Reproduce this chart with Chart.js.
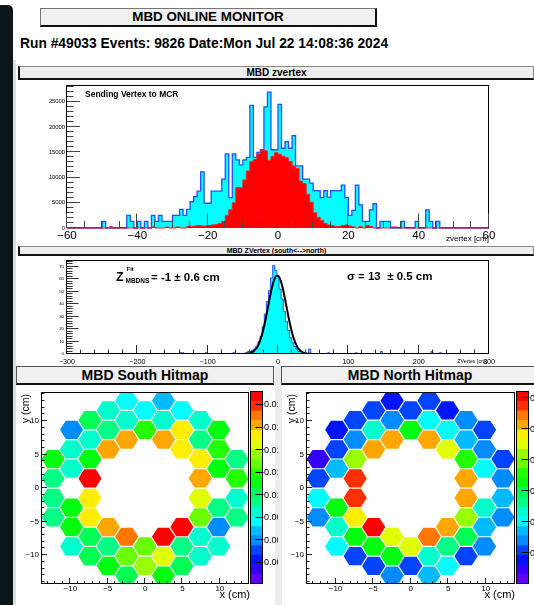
<!DOCTYPE html>
<html>
<head>
<meta charset="utf-8">
<title>MBD ONLINE MONITOR</title>
<script src="https://cdn.jsdelivr.net/npm/chart.js@4.4.1/dist/chart.umd.min.js"></script>
<style>
  html, body { margin:0; padding:0; background:#fff; }
  body { position:relative; width:534px; height:605px; overflow:hidden;
         font-family:"Liberation Sans", Arial, Helvetica, sans-serif; color:#000; }
  .a { position:absolute; }
  canvas.a { display:block; z-index:1; }
  .txt { white-space:nowrap; line-height:1; z-index:3; }
  .b { font-weight:bold; }
  .strip { left:0; top:5px; width:13px; height:600px; background:#0b161b; border-top-right-radius:5px; }
  .strip2 { left:13px; top:60px; width:3px; height:545px; background:#dedede; }
  .gap { left:275px; top:366px; width:7px; height:239px; background:#ececec; }
  .hdr { left:40px; top:8px; width:334px; height:16px; background:#f1f1f1;
         border:1px solid #777; border-right:2px solid #111; border-bottom:2px solid #111;
         text-align:center; font-weight:bold; font-size:13.4px; line-height:16px; z-index:3; }
  .run { left:20px; top:37px; font-size:13.8px; font-weight:bold; line-height:13.8px; white-space:nowrap; }
  .bar1 { left:18px; top:66px; width:513px; height:11px; background:#eeeeee;
          border-top:1px solid #888; border-left:2px solid #111; border-bottom:2px solid #111; border-right:1px solid #888;
          font-size:10px; font-weight:bold; line-height:11px; text-align:center; z-index:3; }
  .bar2 { left:18px; top:246px; width:513px; height:7px; background:#eeeeee;
          border-top:1px solid #888; border-left:2px solid #111; border-bottom:2px solid #111; border-right:1px solid #888;
          font-size:7px; font-weight:bold; line-height:7px; text-align:center; z-index:3; }
  .ttl { top:366px; width:256px; height:16px; background:#f0f0f0;
         border:1px solid #555; border-bottom:2px solid #111;
         font-size:14px; font-weight:bold; line-height:16px; text-align:center; z-index:3; }
  .ylab { writing-mode:vertical-rl; transform:rotate(180deg); font-size:10.5px; line-height:11px; white-space:nowrap; z-index:3; }
</style>
</head>
<body>
<div class="a strip"></div>
<div class="a strip2"></div>
<div class="a gap"></div>

<div class="a hdr">MBD ONLINE MONITOR</div>
<div class="a run">Run #49033 Events: 9826 Date:Mon Jul 22 14:08:36 2024</div>

<div class="a bar1">MBD zvertex</div>
<canvas id="cZv" class="a" width="519" height="164" style="left:15px;top:81px"></canvas>
<div class="a txt b" style="left:85px;top:90.3px;font-size:8.5px">Sending Vertex to MCR</div>
<div class="a txt" style="right:45px;top:234.5px;font-size:8px">zvertex [cm]</div>

<div class="a bar2">MBD ZVertex (south&lt;--&gt;north)</div>
<canvas id="cNs" class="a" width="519" height="110" style="left:15px;top:256px"></canvas>
<div class="a txt b" style="left:116px;top:271px;font-size:12.5px">Z</div>
<div class="a txt b" style="left:126.5px;top:266px;font-size:6px">Fit</div>
<div class="a txt b" style="left:125.5px;top:278px;font-size:6.5px">MBDNS</div>
<div class="a txt b" style="left:151px;top:271.8px;font-size:11.5px">= -1 &plusmn; 0.6 cm</div>
<div class="a txt b" style="left:347px;top:271.3px;font-size:11.5px">&sigma; = 13 &nbsp;&plusmn; 0.5 cm</div>
<div class="a txt" style="right:47px;top:359px;font-size:5.3px">ZVertex [cm]</div>

<canvas id="cS" class="a" width="235" height="219" style="left:15px;top:386px"></canvas>
<canvas id="cSz" class="a" width="28" height="219" style="left:250px;top:386px"></canvas>
<canvas id="cN" class="a" width="235" height="219" style="left:281px;top:386px"></canvas>
<canvas id="cNz" class="a" width="18" height="219" style="left:516px;top:386px"></canvas>

<div class="a ttl" style="left:16px">MBD South Hitmap</div>
<div class="a ttl" style="left:281px">MBD North Hitmap</div>
<div class="a ylab" style="left:20px;top:394px">y (cm)</div>
<div class="a ylab" style="left:286px;top:394px">y (cm)</div>
<div class="a txt" style="right:284px;top:589px;font-size:11px">x (cm)</div>
<div class="a txt" style="right:19px;top:589px;font-size:11px">x (cm)</div>

<script>
// ======================= DATA =======================
// Panel 1: MBD zvertex  (1 cm bins, first bin lower edge at -60 cm)
const zvertexBinLow = -60;
const zvertexBinWidth = 1;
const zvertexAll = [
  0,0,0,0,0,0,0,0,0,0,                                   // -60 .. -51
  0,1300,0,0,0,0,0,0,2500,1300,                          // -50 .. -41
  0,1300,0,1300,0,2500,1300,2500,1300,1300,              // -40 .. -31
  1300,2500,2500,3700,2500,3700,5200,6200,7300,11100,    // -30 .. -21
  4900,4900,7300,7300,7300,9700,14700,6000,14700,13500,  // -20 .. -11
  12500,13500,14000,24300,14000,15000,15500,24000,26900,15500, // -10 .. -1
  15500,24500,15800,17100,15800,18300,12300,12300,9700,9700,   //   0 .. 9
  8900,7400,7400,6000,7400,6100,7400,7400,7400,8500,     //  10 .. 19
  6000,2500,3500,8500,4600,1300,1300,3600,4800,0,        //  20 .. 29
  1300,1300,1300,0,0,0,1300,0,0,0,                       //  30 .. 39
  1300,0,0,3600,1300,0,1300,0,0,0,                       //  40 .. 49
  0,0,0,0,0,0,0,0,0,0                                    //  50 .. 59
];
const zvertexSent = [
  0,0,0,0,0,0,0,0,0,0,                                   // -60 .. -51
  0,0,0,250,0,0,0,0,0,0,                                 // -50 .. -41
  0,0,0,0,0,200,0,0,0,200,                               // -40 .. -31
  0,0,200,0,0,300,300,400,500,400,                       // -30 .. -21
  400,500,600,700,900,1300,2500,3600,5000,8000,          // -20 .. -11
  8000,9500,11300,13200,13600,14700,15300,15300,13400,14200, // -10 .. -1
  14900,14600,14200,13900,13200,12300,11800,9300,8800,6700,  //   0 .. 9
  5100,3000,2100,1500,900,600,500,300,300,500,           //  10 .. 19
  600,400,200,0,300,0,500,300,0,0,                       //  20 .. 29
  0,0,0,200,200,0,0,0,0,0,                               //  30 .. 39
  0,0,0,0,0,0,0,0,0,0,                                   //  40 .. 49
  0,0,0,0,0,0,0,0,0,0                                    //  50 .. 59
];
const zvertexXTicks = [-60, -40, -20, 0, 20, 40, 60];
const zvertexYTicks = [0, 5000, 10000, 15000, 20000, 25000];

// Panel 2: MBD ZVertex (south<-->north)  (3 cm bins, non-empty bins only)
const nsBinWidth = 3;
const nsBinCenters = [-138, -135, -102, -63,
  -45, -42, -39, -36, -33, -30, -27, -24, -21, -18, -15, -12, -9, -6, -3,
  0, 3, 6, 9, 12, 15, 18, 21, 24, 27, 30, 33, 36, 39,
  45, 72, 111, 147, 219, 231];
const nsCounts = [1, 1, 1, 1,
  1, 1, 2, 2, 3, 4, 6, 10, 14, 22, 32, 42, 51, 61, 71,
  67, 62, 52, 44, 34, 26, 19, 13, 9, 6, 4, 2, 2, 1,
  4, 1, 1, 2, 2, 1];
const nsFitX = [-74, -60, -50, -45, -40, -35, -30, -27.5, -25, -22.5, -20, -17.5, -15, -12.5, -10, -7.5, -5, -2.5,
  0, 2.5, 5, 7.5, 10, 12.5, 15, 17.5, 20, 22.5, 25, 27.5, 30, 35, 40, 45, 50, 60, 74];
const nsFitY = [0, 0, 0.05, 0.2, 0.7, 2.1, 5.2, 7.9, 11.5, 16.0, 21.7, 28.2, 35.3, 42.6, 49.6, 55.6, 60.1, 62.6,
  62.8, 60.8, 56.6, 50.9, 44.0, 36.7, 29.5, 22.9, 17.1, 12.3, 8.5, 5.7, 3.7, 1.4, 0.45, 0.12, 0.03, 0, 0];
const nsXTicks = [-300, -200, -100, 0, 100, 200, 300];
const nsYTicks = [0, 10, 20, 30, 40, 50, 60, 70];

// Hitmaps: PMT (hexagon) centres in cm
const hexX = [
  -12.3, -12.3, -12.3, -12.3,
  -9.84, -9.84, -9.84, -9.84, -9.84, -9.84,
  -7.38, -7.38, -7.38, -7.38, -7.38, -7.38, -7.38, -7.38,
  -4.92, -4.92, -4.92, -4.92, -4.92, -4.92,
  -2.46, -2.46, -2.46, -2.46, -2.46, -2.46,
  0, 0, 0, 0,
  2.46, 2.46, 2.46, 2.46, 2.46, 2.46,
  4.92, 4.92, 4.92, 4.92, 4.92, 4.92,
  7.38, 7.38, 7.38, 7.38, 7.38, 7.38, 7.38, 7.38,
  9.84, 9.84, 9.84, 9.84, 9.84, 9.84,
  12.3, 12.3, 12.3, 12.3];
const hexY = [
  4.35, 1.45, -1.45, -4.35,
  8.7, 5.8, 2.9, -2.9, -5.8, -8.7,
  10.15, 7.25, 4.35, 1.45, -1.45, -4.35, -7.25, -10.15,
  11.6, 8.7, 5.8, -5.8, -8.7, -11.6,
  13.05, 10.15, 7.25, -7.25, -10.15, -13.05,
  11.6, 8.7, -8.7, -11.6,
  13.05, 10.15, 7.25, -7.25, -10.15, -13.05,
  11.6, 8.7, 5.8, -5.8, -8.7, -11.6,
  10.15, 7.25, 4.35, 1.45, -1.45, -4.35, -7.25, -10.15,
  8.7, 5.8, 2.9, -2.9, -5.8, -8.7,
  4.35, 1.45, -1.45, -4.35];
const southHits = [
  0.0111, 0.0094, 0.0094, 0.0094,
  0.0060, 0.0085, 0.0085, 0.0111, 0.0111, 0.0085,
  0.0102, 0.0085, 0.0111, 0.0188, 0.0154, 0.0154, 0.0102, 0.0102,
  0.0085, 0.0094, 0.0162, 0.0162, 0.0094, 0.0111,
  0.0077, 0.0085, 0.0162, 0.0171, 0.0128, 0.0102,
  0.0077, 0.0119, 0.0128, 0.0136,
  0.0068, 0.0085, 0.0162, 0.0188, 0.0144, 0.0111,
  0.0077, 0.0154, 0.0154, 0.0188, 0.0094, 0.0102,
  0.0085, 0.0094, 0.0154, 0.0162, 0.0144, 0.0128, 0.0085, 0.0085,
  0.0111, 0.0119, 0.0111, 0.0094, 0.0060, 0.0085,
  0.0094, 0.0119, 0.0085, 0.0094];
const northHits = [
  0.0023, 0.0054, 0.0101, 0.0070,
  0.0039, 0.0054, 0.0086, 0.0163, 0.0117, 0.0101,
  0.0054, 0.0070, 0.0210, 0.0288, 0.0288, 0.0241, 0.0163, 0.0054,
  0.0054, 0.0117, 0.0257, 0.0303, 0.0163, 0.0054,
  0.0039, 0.0070, 0.0257, 0.0225, 0.0163, 0.0070,
  0.0054, 0.0163, 0.0225, 0.0054,
  0.0054, 0.0101, 0.0257, 0.0272, 0.0117, 0.0086,
  0.0039, 0.0101, 0.0225, 0.0257, 0.0132, 0.0101,
  0.0070, 0.0086, 0.0179, 0.0257, 0.0257, 0.0210, 0.0148, 0.0054,
  0.0054, 0.0070, 0.0101, 0.0117, 0.0086, 0.0070,
  0.0054, 0.0070, 0.0086, 0.0070];
const hitTicks = [-10, -5, 0, 5, 10];
const southZRange = [0.0021, 0.0192];
const northZRange = [0.0, 0.0311];
const southZTicks = [0.004, 0.006, 0.008, 0.010, 0.012, 0.014, 0.016, 0.018];
const northZTicks = [0.005, 0.010, 0.015, 0.020, 0.025, 0.030];

// ======================= HELPERS =======================
const FONT = '"Liberation Sans", Arial, Helvetica, sans-serif';
Chart.defaults.font.family = FONT;
Chart.defaults.color = '#000';

const fmt = v => (v < 0 ? '\u2212' + String(-v) : String(v));

// histogram outline points (step 'after'); gaps between non-contiguous bins
function stepPoints(lows, width, counts, breakGaps) {
  const pts = [];
  for (let i = 0; i < lows.length; i++) {
    const lo = lows[i], hi = lo + width;
    const prevContig = i > 0 && Math.abs(lows[i - 1] + width - lo) < 1e-6;
    const nextContig = i < lows.length - 1 && Math.abs(lows[i + 1] - hi) < 1e-6;
    if (!prevContig) pts.push({ x: lo, y: 0 });
    pts.push({ x: lo, y: counts[i] });
    if (!nextContig) {
      pts.push({ x: hi, y: counts[i] });
      pts.push({ x: hi, y: 0 });
      if (breakGaps && i < lows.length - 1) pts.push({ x: hi + 0.01, y: null });
    }
  }
  return pts;
}

// ROOT-like palette (pretty palette, 50 colours, 20 contours)
const NCONT = 20;
function bandColor(c) {
  const j = Math.floor((c + 0.99) * 50 / NCONT);
  const hue = 280 - (j + 1) * 280 / 50;
  return 'hsl(' + hue.toFixed(1) + ',100%,50%)';
}
function valueColor(v, zr) {
  let c = Math.floor(0.01 + (v - zr[0]) * NCONT / (zr[1] - zr[0]));
  c = Math.max(0, Math.min(NCONT - 1, c));
  return bandColor(c);
}

// frame + inward ROOT ticks
function rootAxes(cfg) {
  function frame(chart) {
    const ctx = chart.ctx, a = chart.chartArea;
    ctx.save();
    ctx.strokeStyle = '#000'; ctx.lineWidth = 1;
    const l = Math.round(a.left) - 0.5, t = Math.round(a.top) - 0.5;
    const r = Math.round(a.right) - 0.5, b = Math.round(a.bottom) - 0.5;
    ctx.strokeRect(l, t, r - l, b - t);
    ctx.restore();
  }
  function ticks(chart) {
    const ctx = chart.ctx, a = chart.chartArea;
    ctx.save();
    ctx.strokeStyle = cfg.tickColor || '#333'; ctx.lineWidth = 1;
    ctx.beginPath();
    if (cfg.x) {
      const s = chart.scales.x, o = cfg.x;
      const k0 = Math.ceil(s.min / o.step - 1e-9), k1 = Math.floor(s.max / o.step + 1e-9);
      for (let k = k0; k <= k1; k++) {
        const v = k * o.step;
        const maj = Math.abs(v / o.major - Math.round(v / o.major)) < 1e-6;
        const L = maj ? o.majorLen : o.minorLen;
        const px = Math.round(s.getPixelForValue(v)) - 0.5;
        ctx.moveTo(px, a.bottom); ctx.lineTo(px, a.bottom - L);
      }
    }
    if (cfg.y) {
      const s = chart.scales.y, o = cfg.y;
      const k0 = Math.ceil(s.min / o.step - 1e-9), k1 = Math.floor(s.max / o.step + 1e-9);
      for (let k = k0; k <= k1; k++) {
        const v = k * o.step;
        const maj = Math.abs(v / o.major - Math.round(v / o.major)) < 1e-6;
        const L = maj ? o.majorLen : o.minorLen;
        const py = Math.round(s.getPixelForValue(v)) - 0.5;
        ctx.moveTo(a.left, py); ctx.lineTo(a.left + L, py);
      }
    }
    ctx.stroke();
    ctx.restore();
  }
  return {
    id: 'rootAxes',
    beforeDatasetsDraw(chart) { if (cfg.frameUnder) frame(chart); },
    afterDatasetsDraw(chart) { ticks(chart); if (!cfg.frameUnder) frame(chart); }
  };
}

// hexagonal cells drawn at the scatter points placed by the chart scales
function hexCells(values, zr, hexW, hexH) {
  return {
    id: 'hexCells',
    beforeDatasetsDraw(chart) {
      const ctx = chart.ctx, a = chart.chartArea, xs = chart.scales.x, ys = chart.scales.y;
      const meta = chart.getDatasetMeta(0);
      const hw = Math.abs(xs.getPixelForValue(hexW / 2) - xs.getPixelForValue(0));
      const hh = Math.abs(ys.getPixelForValue(hexH / 2) - ys.getPixelForValue(0));
      ctx.save();
      ctx.beginPath(); ctx.rect(a.left, a.top, a.right - a.left, a.bottom - a.top); ctx.clip();
      meta.data.forEach((el, i) => {
        const x = el.x, y = el.y;
        ctx.beginPath();
        ctx.moveTo(x - hw, y);
        ctx.lineTo(x - hw / 2, y - hh);
        ctx.lineTo(x + hw / 2, y - hh);
        ctx.lineTo(x + hw, y);
        ctx.lineTo(x + hw / 2, y + hh);
        ctx.lineTo(x - hw / 2, y + hh);
        ctx.closePath();
        ctx.fillStyle = valueColor(values[i], zr);
        ctx.fill();
      });
      ctx.restore();
    }
  };
}

function cbarDeco(tickVals) {
  return {
    id: 'cbarDeco',
    afterDatasetsDraw(chart) {
      const ctx = chart.ctx, a = chart.chartArea, ys = chart.scales.y;
      ctx.save();
      ctx.strokeStyle = '#000'; ctx.lineWidth = 1;
      const l = Math.round(a.left) - 0.5, t = Math.round(a.top) - 0.5;
      const r = Math.round(a.right) - 0.5, b = Math.round(a.bottom) - 0.5;
      ctx.strokeRect(l, t, r - l, b - t);
      ctx.beginPath();
      tickVals.forEach(v => {
        const py = Math.round(ys.getPixelForValue(v)) - 0.5;
        ctx.moveTo(r - 7, py); ctx.lineTo(r + 1, py);
      });
      ctx.stroke();
      ctx.restore();
    }
  };
}

function baseOptions(o) {
  return {
    responsive: false, animation: false, events: [], devicePixelRatio: 1,
    layout: { padding: o.pad, autoPadding: false },
    plugins: { legend: { display: false }, tooltip: { enabled: false } },
    scales: {
      x: {
        type: 'linear', min: o.xmin, max: o.xmax,
        grid: { display: false, drawTicks: false }, border: { display: false },
        afterBuildTicks: s => { s.ticks = o.xticks.map(v => ({ value: v })); },
        afterFit: s => { s.height = o.xh; },
        ticks: { autoSkip: false, maxRotation: 0, minRotation: 0, padding: o.xpad,
                 font: { size: o.xfs, lineHeight: 1 }, color: '#000', callback: fmt }
      },
      y: {
        type: 'linear', min: o.ymin, max: o.ymax,
        grid: { display: false, drawTicks: false }, border: { display: false },
        afterBuildTicks: s => { s.ticks = o.yticks.map(v => ({ value: v })); },
        afterFit: s => { s.width = o.yw; },
        ticks: { autoSkip: false, padding: o.ypad,
                 font: { size: o.yfs, lineHeight: 1 }, color: '#000', callback: fmt }
      }
    }
  };
}

// ======================= PANEL 1 : zvertex =======================
// (dataset index 0 is drawn on top, so the red "sent" histogram comes first)
const zvLows = zvertexAll.map((_, i) => zvertexBinLow + i * zvertexBinWidth);
new Chart(document.getElementById('cZv'), {
  type: 'line',
  data: {
    datasets: [
      { data: stepPoints(zvLows, zvertexBinWidth, zvertexSent, false), stepped: 'after', fill: 'origin',
        backgroundColor: '#ff0000', borderColor: '#ff2020', borderWidth: 1, pointRadius: 0,
        clip: { left: 0, right: 0, top: 0, bottom: 2 } },
      { data: stepPoints(zvLows, zvertexBinWidth, zvertexAll, false), stepped: 'after', fill: 'origin',
        backgroundColor: '#00ffff', borderColor: '#2a4dff', borderWidth: 1.3, pointRadius: 0,
        clip: { left: 0, right: 0, top: 0, bottom: 2 } }
    ]
  },
  options: baseOptions({
    pad: { left: 0, right: 45, top: 2, bottom: 0 },
    xmin: -60, xmax: 60, xticks: zvertexXTicks, xh: 17, xpad: 2, xfs: 11.5,
    ymin: 0, ymax: 28150, yticks: zvertexYTicks, yw: 52, ypad: 2, yfs: 5.8
  }),
  plugins: [rootAxes({
    frameUnder: true, tickColor: '#444',
    x: { step: 5, major: 20, majorLen: 14.5, minorLen: 7 },
    y: { step: 1000, major: 5000, majorLen: 13, minorLen: 6.5 }
  })]
});

// ======================= PANEL 2 : ZVertex south<->north =======================
const nsLows = nsBinCenters.map(c => c - nsBinWidth / 2);
new Chart(document.getElementById('cNs'), {
  type: 'line',
  data: {
    datasets: [
      { data: nsFitX.map((x, i) => ({ x: x, y: nsFitY[i] })), borderColor: '#000', borderWidth: 2,
        pointRadius: 0, fill: false, cubicInterpolationMode: 'monotone' },
      { data: stepPoints(nsLows, nsBinWidth, nsCounts, true), stepped: 'after', fill: 'origin',
        backgroundColor: '#00ffff', borderColor: '#2a4dff', borderWidth: 1, pointRadius: 0, spanGaps: false }
    ]
  },
  options: baseOptions({
    pad: { left: 0, right: 45, top: 2, bottom: 0 },
    xmin: -300, xmax: 300, xticks: nsXTicks, xh: 12, xpad: 4, xfs: 7.2,
    ymin: 0, ymax: 74.4, yticks: nsYTicks, yw: 52, ypad: 3, yfs: 4.3
  }),
  plugins: [rootAxes({
    frameUnder: false, tickColor: '#333',
    x: { step: 20, major: 100, majorLen: 9, minorLen: 4.5 },
    y: { step: 2, major: 10, majorLen: 11.5, minorLen: 5.5 }
  })]
});

// ======================= HITMAPS =======================
const HEX_W = 3.1, HEX_H = 2.72;
function hitmap(id, values, zr, yw) {
  new Chart(document.getElementById(id), {
    type: 'scatter',
    data: { datasets: [{ data: hexX.map((x, i) => ({ x: x, y: hexY[i] })), pointRadius: 0, pointHoverRadius: 0 }] },
    options: baseOptions({
      pad: { left: 0, right: 1, top: 5, bottom: 0 },
      xmin: -13.8, xmax: 13.9, xticks: hitTicks, xh: 21, xpad: 0.5, xfs: 8,
      ymin: -14.3, ymax: 14.2, yticks: hitTicks, yw: yw, ypad: 3, yfs: 8
    }),
    plugins: [hexCells(values, zr, HEX_W, HEX_H), rootAxes({
      frameUnder: false, tickColor: '#222',
      x: { step: 1, major: 5, majorLen: 6, minorLen: 3 },
      y: { step: 1, major: 5, majorLen: 5, minorLen: 2.5 }
    })]
  });
}
function colorbar(id, zr, tickVals, axisW) {
  const dz = (zr[1] - zr[0]) / NCONT;
  const sets = [];
  for (let c = 0; c < NCONT; c++) {
    sets.push({ data: [[zr[0] + c * dz, zr[0] + (c + 1) * dz]], backgroundColor: bandColor(c),
                borderWidth: 0, barPercentage: 1, categoryPercentage: 1, grouped: false });
  }
  new Chart(document.getElementById(id), {
    type: 'bar',
    data: { labels: ['z'], datasets: sets },
    options: {
      responsive: false, animation: false, events: [], devicePixelRatio: 1,
      layout: { padding: { left: 1, right: 0, top: 5, bottom: 21 }, autoPadding: false },
      plugins: { legend: { display: false }, tooltip: { enabled: false } },
      scales: {
        x: { display: false },
        y: {
          position: 'right', min: zr[0], max: zr[1],
          grid: { display: false, drawTicks: false }, border: { display: false },
          afterBuildTicks: s => { s.ticks = tickVals.map(v => ({ value: v })); },
          afterFit: s => { s.width = axisW; },
          ticks: { autoSkip: false, padding: 1, font: { size: 9, lineHeight: 1 }, color: '#000',
                   callback: v => v.toFixed(3) }
        }
      }
    },
    plugins: [cbarDeco(tickVals)]
  });
}
hitmap('cS', southHits, southZRange, 27);
colorbar('cSz', southZRange, southZTicks, 15);
hitmap('cN', northHits, northZRange, 26);
colorbar('cNz', northZRange, northZTicks, 5);
</script>
</body>
</html>
